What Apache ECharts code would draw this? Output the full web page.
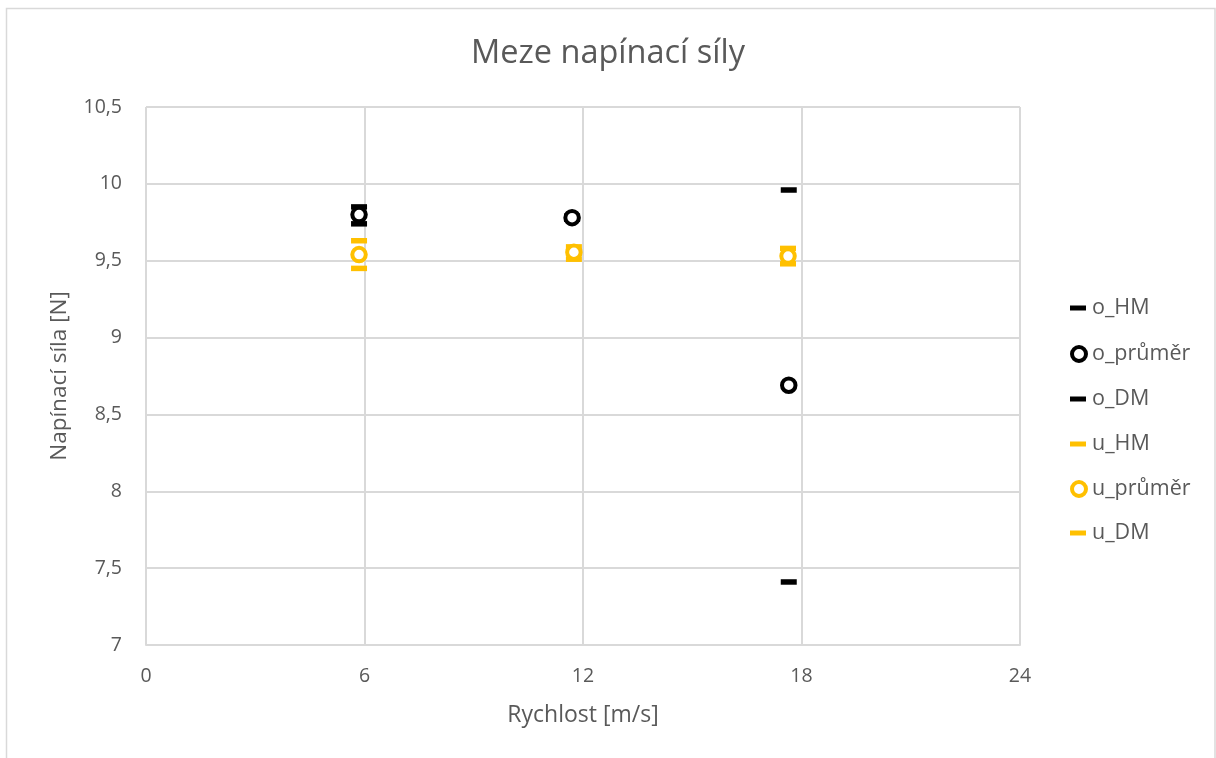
<!DOCTYPE html>
<html>
<head>
<meta charset="utf-8">
<script src="https://cdn.jsdelivr.net/npm/echarts@6/dist/echarts.min.js"></script>
<style>
html,body{margin:0;padding:0;background:#fff;}
#chart{width:1216px;height:758px;}
</style>
</head>
<body>
<div id="chart"></div>
<script>
// Data
const oX = [5.85, 11.7, 17.65];
const o_HM = [9.85, 9.79, 9.96];
const o_prumer = [9.80, 9.78, 8.69];
const o_DM = [9.74, 9.77, 7.41];
const uX = [5.85, 11.75, 17.63];
const u_HM = [9.63, 9.59, 9.58];
const u_prumer = [9.54, 9.555, 9.53];
const u_DM = [9.45, 9.51, 9.48];
const seriesNames = ['o_HM', 'o_průměr', 'o_DM', 'u_HM', 'u_průměr', 'u_DM'];
const xTicks = [0, 6, 12, 18, 24];
const yTicks = [7, 7.5, 8, 8.5, 9, 9.5, 10, 10.5];

const BLACK = '#000000';
const GOLD = '#FFC000';
const TEXT = '#595959';
const FONT = '"Open Sans", "Noto Sans", sans-serif';

function pairs(xs, ys) { return xs.map((x, i) => [x, ys[i]]); }

function dashSeries(name, xs, ys, color) {
  return {
    name, type: 'scatter', data: pairs(xs, ys),
    symbol: 'rect', symbolSize: [16, 5.5],
    itemStyle: { color: color, opacity: 1 },
    emphasis: { disabled: true }, z: 3
  };
}
function ringSeries(name, xs, ys, color) {
  return {
    name, type: 'scatter', data: pairs(xs, ys),
    symbol: 'circle', symbolSize: 13.5,
    itemStyle: { color: '#ffffff', borderColor: color, borderWidth: 4, opacity: 1 },
    emphasis: { disabled: true }, z: 4
  };
}

const legendTops = [308, 354, 399, 444, 489, 533];
const legendColors = [BLACK, BLACK, BLACK, GOLD, GOLD, GOLD];
const legends = seriesNames.map((n, i) => {
  const isRing = (i % 3) === 1;
  return {
    data: [{
      name: n,
      itemStyle: isRing
        ? { color: '#ffffff', borderColor: legendColors[i], borderWidth: 4 }
        : { color: legendColors[i] }
    }],
    left: 1070, top: legendTops[i] - 12, orient: 'vertical',
    itemWidth: isRing ? 14 : 16, itemHeight: isRing ? 14 : 5,
    itemGap: 5, padding: [0, 0, 0, 0],
    textStyle: { color: TEXT, fontSize: 21.5, fontFamily: FONT, padding: [0, 0, 0, 1], lineHeight: 24 },
    selectedMode: false
  };
});

const chart = echarts.init(document.getElementById('chart'), null, { renderer: 'canvas' });
chart.setOption({
  backgroundColor: '#ffffff',
  animation: false,
  title: {
    text: 'Meze napínací síly', left: 'center', top: 32,
    textStyle: { color: TEXT, fontSize: 32.5, fontWeight: 'normal', fontFamily: FONT }
  },
  graphic: [{
    type: 'rect', shape: { x: 6.5, y: 8.5, width: 1208.5, height: 760 },
    style: { fill: 'none', stroke: '#d9d9d9', lineWidth: 1.5 }, silent: true, z: -10
  }],
  legend: legends,
  grid: { left: 146, right: 196, top: 107, bottom: 113, containLabel: false },
  xAxis: {
    type: 'value', min: xTicks[0], max: xTicks[xTicks.length - 1], interval: 6,
    name: 'Rychlost [m/s]', nameLocation: 'middle', nameGap: 59,
    nameTextStyle: { color: TEXT, fontSize: 23, fontFamily: FONT },
    axisLine: { show: true, lineStyle: { color: '#d9d9d9', width: 2 } },
    axisTick: { show: false },
    axisLabel: { color: TEXT, fontSize: 19.5, fontFamily: FONT, margin: 21 },
    splitLine: { show: true, lineStyle: { color: '#d9d9d9', width: 2 } }
  },
  yAxis: {
    type: 'value', min: yTicks[0], max: yTicks[yTicks.length - 1], interval: 0.5,
    name: 'Napínací síla [N]', nameLocation: 'middle', nameGap: 75,
    nameTextStyle: { color: TEXT, fontSize: 22.5, fontFamily: FONT },
    axisLine: { show: false },
    axisTick: { show: false },
    axisLabel: {
      color: TEXT, fontSize: 19.5, fontFamily: FONT, margin: 24,
      formatter: v => String(v).replace('.', ',')
    },
    splitLine: { show: true, lineStyle: { color: '#d9d9d9', width: 2 } }
  },
  series: [
    dashSeries(seriesNames[0], oX, o_HM, BLACK),
    ringSeries(seriesNames[1], oX, o_prumer, BLACK),
    dashSeries(seriesNames[2], oX, o_DM, BLACK),
    dashSeries(seriesNames[3], uX, u_HM, GOLD),
    ringSeries(seriesNames[4], uX, u_prumer, GOLD),
    dashSeries(seriesNames[5], uX, u_DM, GOLD)
  ]
});
</script>
</body>
</html>
